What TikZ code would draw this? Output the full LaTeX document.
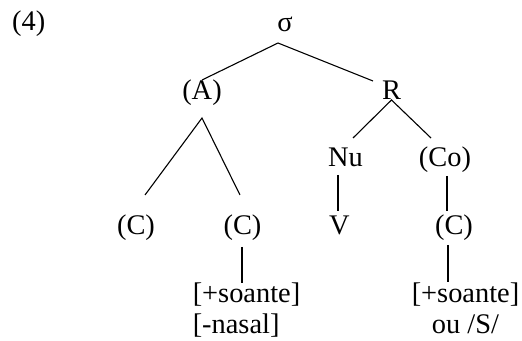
\documentclass[tikz,border=0pt]{standalone}
\usepackage{fontspec}
\setmainfont{Liberation Serif}
\usepackage{tikz}
\tikzstyle{lbl} = [inner sep=0pt, anchor=base, font=\fontsize{28.4}{33}\selectfont]
\tikzstyle{branch} = [line width=1.1pt]

\begin{document}
\begin{tikzpicture}[x=1pt,y=1pt]
\useasboundingbox (0,0) rectangle (522,340);

\node[lbl,anchor=base west] (num) at (12,309) {(4)};

\node[lbl] (sigma) at (285,308) {σ};
\node[lbl] (onset)  at (202,240) {(A)};
\node[lbl] (rhyme)  at (391.5,240) {R};
\node[lbl] (nucleus) at (345.5,173) {Nu};
\node[lbl] (coda)   at (445,173) {(Co)};
\node[lbl] (c_one)  at (136,105) {(C)};
\node[lbl] (c_two)  at (242.5,105) {(C)};
\node[lbl] (vowel)  at (339.5,105) {V};
\node[lbl] (c_three) at (454,105) {(C)};

\node[lbl] (soante_one) at (246.5,37) {[+soante]};
\node[lbl,anchor=base west] (nasal_one) at ([yshift=-31pt]soante_one.base west) {[-nasal]};
\node[lbl] (soante_two) at (465.5,37) {[+soante]};
\node[lbl] (ou_s) at ([yshift=-31pt]soante_two.base) {ou /S/};

\draw[branch] ([yshift=20pt]onset.base) -- ([xshift=-7pt,yshift=-11pt]sigma.base) -- ([xshift=-18.5pt,yshift=19pt]rhyme.base);
\draw[branch] ([xshift=9pt,yshift=40pt]c_one.base) -- ([yshift=-18pt]onset.base) -- ([xshift=-2.5pt,yshift=40pt]c_two.base);
\draw[branch] ([xshift=7.5pt,yshift=29pt]nucleus.base) -- (rhyme.base) -- ([xshift=-14pt,yshift=29pt]coda.base);
\draw[branch] ([xshift=-7.5pt,yshift=-8pt]nucleus.base) -- ([xshift=-1.5pt,yshift=24pt]vowel.base);
\draw[branch] ([xshift=2pt,yshift=-9pt]coda.base) -- ([xshift=-7pt,yshift=24pt]c_three.base);
\draw[branch] ([xshift=-0.5pt,yshift=-12pt]c_two.base) -- ([xshift=-4.5pt,yshift=20pt]soante_one.base);
\draw[branch] ([xshift=-6pt,yshift=-10pt]c_three.base) -- ([xshift=-17.5pt,yshift=21pt]soante_two.base);
\end{tikzpicture}
\end{document}
